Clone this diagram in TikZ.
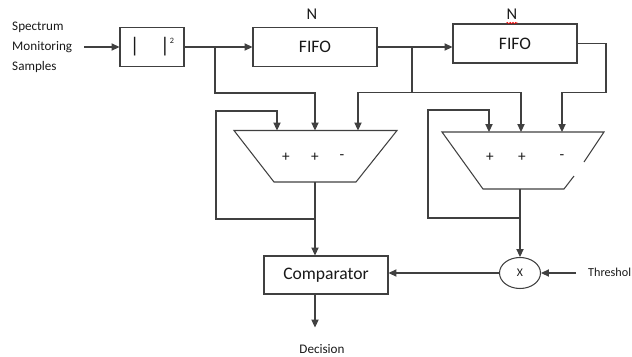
\documentclass[tikz,border=0pt]{standalone}
\usepackage{fontspec}
\setmainfont{Carlito}
\usetikzlibrary{shapes.geometric, arrows.meta, positioning, decorations.pathmorphing}

\begin{document}
\begin{tikzpicture}[
    x=0.03cm, y=-0.03cm,
    wire/.style={draw=black!75, line width=0.9pt},
    sig/.style={wire, -{Triangle[length=6.8pt, width=6.2pt]}},
    block/.style={draw=black!75, line width=0.9pt, minimum width=3.72cm, minimum height=1.17cm, inner sep=0pt, text=black!90, font=\fontsize{15}{17}\selectfont},
    lbl/.style={inner sep=0pt, text=black!90, font=\fontsize{11.2}{17}\selectfont},
    sgn/.style={inner sep=0pt, text=black!90, font=\fontsize{13}{15}\selectfont}
]

\useasboundingbox (0,0) rectangle (632,356);

% Blocks
\node[lbl, align=left, anchor=west] (src) at (12,47) {Spectrum\\Monitoring\\Samples};
\node[block, minimum width=1.92cm, font=\fontsize{18}{18}\selectfont] (sq) at (152,47)
    {|\hspace{0.62cm}|\raisebox{0.95ex}{\fontsize{7}{7}\selectfont 2}};
\node[block] (fifo1) at (315,47) {FIFO};
\node[block] (fifo2) at (515,43.5) {FIFO};
\node[inner sep=0pt, text=black!90, font=\fontsize{14}{16}\selectfont] (n1) at (312,14) {N};
\node[inner sep=0pt, text=black!90, font=\fontsize{14}{16}\selectfont] (n2) at (512,14) {N};
\draw[red, line width=0.5pt, decorate, decoration={snake, amplitude=0.6pt, segment length=2.4pt}]
    ([yshift=-3pt]n2.south west) -- ([yshift=-3pt]n2.south east);
\node[block, minimum height=1.14cm] (comp) at (326,275) {Comparator};
\node[draw=black!75, line width=0.9pt, ellipse, minimum width=1.23cm, minimum height=0.93cm, inner sep=0pt, text=black!90, font=\fontsize{10}{12}\selectfont] (mul) at (520,273) {X};
\node[lbl, anchor=west, font=\fontsize{10.4}{12}\selectfont] (thr) at (588,272) {Threshol};
\node[lbl] (dec) at (322,349) {Decision};

% Summers
\draw[wire] (234,130.5) -- (397,130.5) -- (356,182) -- (274,182) -- cycle;
\draw[wire] (574,176) -- (564,189) -- (483,189) -- (442,132) -- (604,132) -- (584,162);
\node[sgn] (p1a) at (286,157) {+};
\node[sgn] (p1b) at (315,157) {+};
\node[sgn] (p1c) at (342,157) {-};
\node[sgn] (p2a) at (490,157) {+};
\node[sgn] (p2b) at (522,157) {+};
\node[sgn] (p2c) at (562,157) {-};

% Ports and junctions
\coordinate (s1a) at (277,130.5);
\coordinate (s1b) at (315,130.5);
\coordinate (s1c) at (358,130.5);
\coordinate (s1out) at (315,182);
\coordinate (s2a) at (489,132);
\coordinate (s2b) at (521,132);
\coordinate (s2c) at (562,132);
\coordinate (s2out) at (520,189);
\coordinate (j1) at (215,47);
\coordinate (j2) at (412,47);
\coordinate (bus) at (412,92.5);
\coordinate (l1) at (315,219);
\coordinate (l2) at (520,218);

% Signals
\draw[sig] ([xshift=10pt]src.east) -- (sq.west);
\draw[sig] (sq.east) -- (fifo1.west);
\draw[sig] (fifo1.east) -- (fifo1.east -| fifo2.west);
\draw[sig] (j1) -- ++(0,46) -| (s1b);
\draw[wire] (j2) -- (bus);
\draw[sig] (bus) -| (s1c);
\draw[sig] (bus) -| (s2b);
\draw[sig] (fifo2.east) -| (606,92.5) -| (s2c);
\draw[sig] (l1) -| (216,111) -| (s1a);
\draw[sig] (l2) -| (428,110) -| (s2a);
\draw[sig] (s1out) -- (s1out |- comp.north);
\draw[sig] (s2out) -- (mul.north);
\draw[sig] (mul.west) -- (mul.west -| comp.east);
\draw[sig] ([xshift=-10.2pt]thr.west |- mul.east) -- (mul.east);
\draw[sig] (s1out |- comp.south) -- ++(0,33);

\end{tikzpicture}
\end{document}
